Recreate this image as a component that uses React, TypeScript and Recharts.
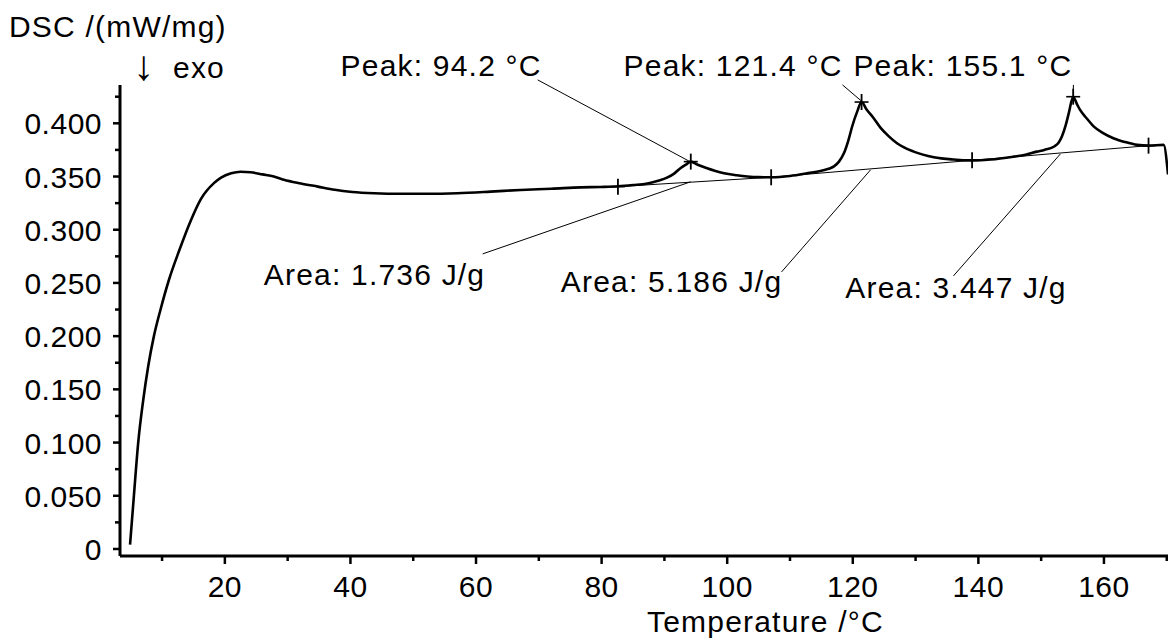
import React from 'react';
import {
  ComposedChart,
  Line,
  Scatter,
  XAxis,
  YAxis,
  ReferenceLine,
  ReferenceDot,
} from 'recharts';

const FONT = 'Arial, "Liberation Sans", Helvetica, sans-serif';
const FS = 30;
const LS_TEXT = 1.2;
const LS_TICK = 0.5;

// DSC curve (temperature in °C, DSC in mW/mg)
const temperature = [
  4.9, 5.5, 6.2, 7.0, 7.8, 8.7, 9.8, 11.1, 12.7, 14.6, 16.2, 18.3, 19.4, 21.0, 22.5, 24.1, 26.0,
  27.8, 29.4, 32.1, 34.8, 37.5, 40.3, 43.8, 48.0, 52.0, 57.0, 62.3, 67.1, 72.0, 76.7, 79.8,
  82.6, 85.0, 87.3, 89.0, 90.5, 91.6, 92.6, 93.5, 94.2, 95.3, 96.8, 98.0, 99.5, 101.5, 103.2,
  105.0, 107.0, 110.0, 112.7, 115.0, 116.3, 117.0, 117.8, 118.6, 119.3, 119.9, 120.7, 121.4,
  122.2, 123.3, 124.4, 125.7, 127.1, 129.7, 132.9, 136.0, 139.0, 142.0, 145.6, 147.5, 149.3,
  150.5, 152.0, 152.8, 153.3, 153.9, 154.4, 155.1, 155.7, 156.2, 157.2, 158.4, 159.8, 161.5,
  163.3, 165.3, 167.1, 169.5, 170.2,
];
const dscSignal = [
  0.004, 0.049, 0.1, 0.14, 0.172, 0.2, 0.226, 0.253, 0.28, 0.309, 0.329, 0.344, 0.349, 0.353,
  0.3545, 0.354, 0.352, 0.35, 0.347, 0.3435, 0.3405, 0.3375, 0.3355, 0.3343, 0.3338, 0.3338,
  0.3343, 0.3358, 0.3374, 0.3385, 0.3398, 0.3402, 0.3408, 0.342, 0.3435, 0.346, 0.3492, 0.353,
  0.358, 0.3615, 0.364, 0.361, 0.3578, 0.3555, 0.3531, 0.3512, 0.35, 0.3494, 0.3493, 0.3505,
  0.353, 0.3555, 0.3575, 0.3595, 0.364, 0.372, 0.384, 0.397, 0.411, 0.42, 0.413, 0.405, 0.396,
  0.388, 0.381, 0.3734, 0.3681, 0.366, 0.3652, 0.366, 0.3687, 0.3705, 0.3734, 0.375, 0.378,
  0.382, 0.3875, 0.398, 0.4095, 0.425, 0.418, 0.4126, 0.405, 0.3969, 0.391, 0.386, 0.3825,
  0.3797, 0.379, 0.3797, 0.352,
];

// evaluation markers (+)
const markerTemps = [82.6, 94.2, 107.0, 121.4, 139.0, 155.1, 167.1];
const markerValues = [0.3405, 0.364, 0.3493, 0.42, 0.3652, 0.425, 0.379];

// integration baselines
const baselineTemps = [82.6, 107.0, 139.0, 167.1];
const baselineValues = [0.3405, 0.3493, 0.3652, 0.379];

// axis ticks
const xMajorTicks = [20, 40, 60, 80, 100, 120, 140, 160];
const xMinorTicks = [10, 30, 50, 70, 90, 110, 130, 150, 170];
const yMajorTicks = [0, 0.05, 0.1, 0.15, 0.2, 0.25, 0.3, 0.35, 0.4];
const yMinorTicks = [0.025, 0.075, 0.125, 0.175, 0.225, 0.275, 0.325, 0.375, 0.425];

const xDomain = [3.3, 170.2];
const yDomain = [-0.0066, 0.436];

// annotations
const peakTexts = ['Peak: 94.2 °C', 'Peak: 121.4 °C', 'Peak: 155.1 °C'];
const peakTextTemps = [70.45, 83.5, 120.1];
const peakTextValues = [0.4445, 0.4445, 0.4445];
const peakTextAnchors = ['end', 'start', 'start'];
const peakLeaderFrom = [
  [69.82, 0.4408],
  [118.36, 0.4361],
  [155.13, 0.4361],
];
const peakLeaderTo = [
  [94.17, 0.3637],
  [121.54, 0.4201],
  [155.13, 0.4248],
];

const areaTexts = ['Area: 1.736 J/g', 'Area: 5.186 J/g', 'Area: 3.447 J/g'];
const areaTextTemps = [26.2, 73.5, 118.8];
const areaTextValues = [0.2481, 0.2415, 0.2359];
const areaLeaderFrom = [
  [61.06, 0.2773],
  [108.65, 0.2603],
  [136.03, 0.2566],
];
const areaLeaderTo = [
  [94.17, 0.345],
  [122.82, 0.3562],
  [153.06, 0.3712],
];

const curveData = temperature.map((t, i) => ({ t, v: dscSignal[i] }));
const markerData = markerTemps.map((t, i) => ({ t, v: markerValues[i] }));
const baselineData = baselineTemps.map((t, i) => ({ t, v: baselineValues[i] }));

const isMajor = (arr: number[], v: number) => arr.some((m) => Math.abs(m - v) < 1e-9);

const XTick = (props: any) => {
  const { x, y, payload } = props;
  const v = payload.value;
  const major = isMajor(xMajorTicks, v);
  return (
    <g>
      <line x1={x} x2={x} y1={y} y2={y + (major ? 8 : 5)} stroke="#000" strokeWidth={2.5} />
      {major && (
        <text x={x} y={y + 41} textAnchor="middle" fontFamily={FONT} fontSize={FS} letterSpacing={LS_TICK} fill="#000">
          {v}
        </text>
      )}
    </g>
  );
};

const YTick = (props: any) => {
  const { x, y, payload } = props;
  const v = payload.value;
  const major = isMajor(yMajorTicks, v);
  return (
    <g>
      <line x1={x - (major ? 7 : 5)} x2={x} y1={y} y2={y} stroke="#000" strokeWidth={2.5} />
      {major && (
        <text x={x - 18} y={y + 11} textAnchor="end" fontFamily={FONT} fontSize={FS} letterSpacing={LS_TICK} fill="#000">
          {v === 0 ? '0' : v.toFixed(3)}
        </text>
      )}
    </g>
  );
};

const CrossShape = (props: any) => {
  const { cx, cy } = props;
  return (
    <g>
      <line x1={cx - 7} x2={cx + 7} y1={cy} y2={cy} stroke="#000" strokeWidth={1.6} />
      <line x1={cx} x2={cx} y1={cy - 8} y2={cy + 8} stroke="#000" strokeWidth={1.8} />
    </g>
  );
};

const XTitle = () => (
  <text x={647} y={632} textAnchor="start" fontFamily={FONT} fontSize={FS} letterSpacing={LS_TEXT} fill="#000">
    Temperature /°C
  </text>
);

const YTitle = () => (
  <g>
    <text x={9} y={37} fontFamily={FONT} fontSize={FS} letterSpacing={LS_TEXT} fill="#000">
      DSC /(mW/mg)
    </text>
    <text x={133} y={80} fontFamily={FONT} fontSize={42} fill="#000">
      ↓
    </text>
    <text x={173} y={78} fontFamily={FONT} fontSize={FS} letterSpacing={LS_TEXT} fill="#000">
      exo
    </text>
  </g>
);

const textShape = (label: string, anchor: string) => (p: any) => (
  <text x={p.cx} y={p.cy} textAnchor={anchor} fontFamily={FONT} fontSize={FS} letterSpacing={LS_TEXT} fill="#000">
    {label}
  </text>
);

export default function App() {
  return (
    <div style={{ position: 'absolute', left: 0, top: 0, width: 1168, height: 642, background: '#fff' }}>
      <ComposedChart
        width={1168}
        height={642}
        margin={{ top: 85, right: 0, bottom: 0, left: 0 }}
      >
        <XAxis
          type="number"
          dataKey="t"
          domain={xDomain}
          allowDataOverflow
          ticks={[...xMajorTicks, ...xMinorTicks].sort((a, b) => a - b)}
          interval={0}
          tickSize={0}
          tickMargin={0}
          tickLine={false}
          tick={<XTick />}
          height={86}
          axisLine={{ stroke: '#000', strokeWidth: 3 }}
          label={<XTitle />}
        />
        <YAxis
          type="number"
          domain={yDomain}
          allowDataOverflow
          ticks={[...yMajorTicks, ...yMinorTicks].sort((a, b) => a - b)}
          interval={0}
          tickSize={0}
          tickMargin={0}
          tickLine={false}
          tick={<YTick />}
          width={120}
          axisLine={{ stroke: '#000', strokeWidth: 3 }}
          label={<YTitle />}
        />
        <Line
          data={baselineData}
          dataKey="v"
          type="linear"
          stroke="#000"
          strokeWidth={1}
          dot={false}
          activeDot={false}
          isAnimationActive={false}
        />
        {peakLeaderFrom.map((f, i) => (
          <ReferenceLine
            key={'pl' + i}
            segment={[
              { x: f[0], y: f[1] },
              { x: peakLeaderTo[i][0], y: peakLeaderTo[i][1] },
            ]}
            stroke="#000"
            strokeWidth={1}
            ifOverflow="visible"
          />
        ))}
        {areaLeaderFrom.map((f, i) => (
          <ReferenceLine
            key={'al' + i}
            segment={[
              { x: f[0], y: f[1] },
              { x: areaLeaderTo[i][0], y: areaLeaderTo[i][1] },
            ]}
            stroke="#000"
            strokeWidth={1}
            ifOverflow="visible"
          />
        ))}
        <Line
          data={curveData}
          dataKey="v"
          type="monotone"
          stroke="#000"
          strokeWidth={2.6}
          dot={false}
          activeDot={false}
          isAnimationActive={false}
        />
        <Scatter data={markerData} dataKey="v" shape={CrossShape} isAnimationActive={false} />
        {peakTexts.map((s, i) => (
          <ReferenceDot
            key={'pt' + i}
            x={peakTextTemps[i]}
            y={peakTextValues[i]}
            r={0}
            ifOverflow="visible"
            shape={textShape(s, peakTextAnchors[i])}
          />
        ))}
        {areaTexts.map((s, i) => (
          <ReferenceDot
            key={'at' + i}
            x={areaTextTemps[i]}
            y={areaTextValues[i]}
            r={0}
            ifOverflow="visible"
            shape={textShape(s, 'start')}
          />
        ))}
      </ComposedChart>
    </div>
  );
}
